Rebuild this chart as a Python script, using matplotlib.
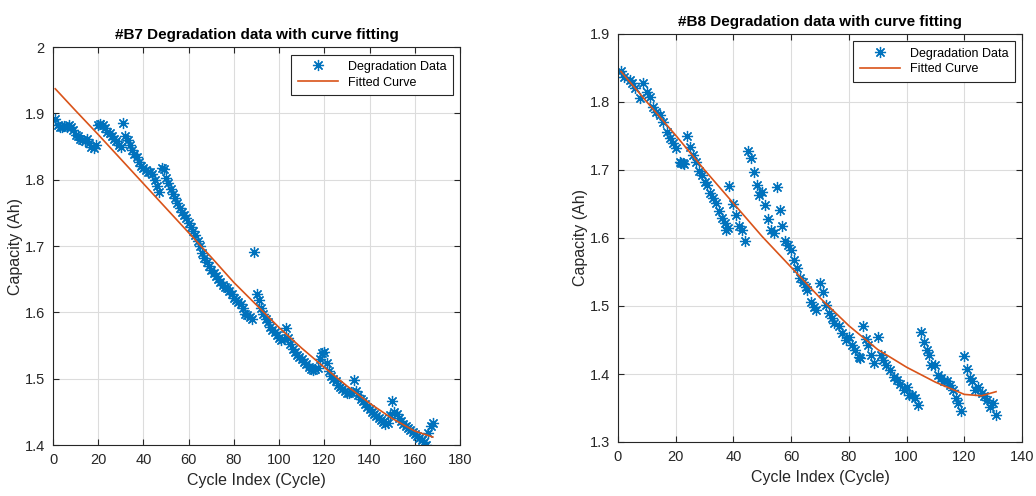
import numpy as np
import matplotlib
matplotlib.use('Agg')
import matplotlib.pyplot as plt

plt.rcParams['font.family'] = ['Liberation Sans', 'DejaVu Sans']

# #B7 measured capacity (Ah), one value per cycle starting at cycle 1
b7_capacity = [
    1.891, 1.882, 1.880, 1.880, 1.881, 1.880, 1.882, 1.880, 1.875, 1.868,
    1.866, 1.862, 1.860, 1.858, 1.862, 1.855, 1.850, 1.848, 1.852, 1.882,
    1.884, 1.882, 1.878, 1.872, 1.870, 1.866, 1.862, 1.858, 1.852, 1.850,
    1.886, 1.866, 1.860, 1.852, 1.845, 1.838, 1.834, 1.826, 1.820, 1.818,
    1.815, 1.812, 1.812, 1.808, 1.800, 1.790, 1.782, 1.818, 1.816, 1.803,
    1.795, 1.786, 1.778, 1.772, 1.765, 1.758, 1.752, 1.746, 1.742, 1.735,
    1.728, 1.722, 1.716, 1.708, 1.700, 1.690, 1.682, 1.676, 1.670, 1.664,
    1.660, 1.655, 1.650, 1.646, 1.641, 1.638, 1.636, 1.632, 1.628, 1.622,
    1.618, 1.615, 1.612, 1.606, 1.598, 1.596, 1.593, 1.590, 1.691, 1.628,
    1.618, 1.606, 1.598, 1.590, 1.585, 1.578, 1.574, 1.570, 1.566, 1.562,
    1.558, 1.560, 1.577, 1.562, 1.552, 1.545, 1.540, 1.536, 1.532, 1.529,
    1.525, 1.522, 1.518, 1.515, 1.513, 1.514, 1.516, 1.530, 1.538, 1.540,
    1.524, 1.512, 1.504, 1.500, 1.496, 1.491, 1.487, 1.484, 1.481, 1.479,
    1.478, 1.480, 1.498, 1.482, 1.476, 1.470, 1.466, 1.462, 1.458, 1.455,
    1.450, 1.446, 1.443, 1.440, 1.437, 1.434, 1.432, 1.433, 1.445, 1.467,
    1.450, 1.446, 1.440, 1.436, 1.432, 1.428, 1.425, 1.422, 1.419, 1.416,
    1.413, 1.410, 1.408, 1.405, 1.400, 1.418, 1.428, 1.433,
]
b7_fit_cycle = [1, 10, 20, 30, 40, 50, 60, 70, 80, 90, 100, 110, 120, 130, 140, 150, 160, 168]
b7_fit_cap = [1.937, 1.904, 1.868, 1.831, 1.794, 1.757, 1.720, 1.683, 1.645, 1.611,
              1.577, 1.546, 1.517, 1.489, 1.463, 1.440, 1.421, 1.412]

# #B8 measured capacity (Ah) and the cycle it was read at
b8_capacity = [
    1.845, 1.837, 1.832, 1.828, 1.820, 1.806, 1.828, 1.815, 1.808, 1.793,
    1.786, 1.781, 1.771, 1.756, 1.747, 1.740, 1.732, 1.712, 1.710, 1.709,
    1.711, 1.750, 1.734, 1.722, 1.712, 1.698, 1.692, 1.683, 1.678, 1.666,
    1.659, 1.651, 1.639, 1.630, 1.622, 1.615, 1.612, 1.676, 1.650, 1.634,
    1.617, 1.612, 1.595, 1.728, 1.718, 1.697, 1.678, 1.663, 1.668, 1.649,
    1.628, 1.612, 1.607, 1.675, 1.641, 1.617, 1.595, 1.590, 1.582, 1.568,
    1.556, 1.541, 1.536, 1.528, 1.524, 1.506, 1.499, 1.494, 1.534, 1.521,
    1.501, 1.489, 1.482, 1.475, 1.470, 1.460, 1.450, 1.455, 1.443, 1.435,
    1.425, 1.423, 1.471, 1.452, 1.443, 1.428, 1.416, 1.455, 1.428, 1.421,
    1.413, 1.406, 1.396, 1.391, 1.386, 1.376, 1.381, 1.369, 1.369, 1.364,
    1.354, 1.462, 1.447, 1.435, 1.428, 1.413, 1.413, 1.399, 1.394, 1.389,
    1.389, 1.384, 1.376, 1.364, 1.357, 1.345, 1.426, 1.407, 1.394, 1.389,
    1.376, 1.381, 1.372, 1.367, 1.362, 1.352, 1.357, 1.340,
]
b8_cycle = [1, 2, 4, 5, 6, 7.6, 8.7, 10, 11, 12, 13, 14.5, 15.5, 17, 18, 19, 20, 21.5,
            22.5, 23, 22, 24, 25, 26, 27, 28, 29, 30, 31, 32, 33, 34, 35, 36, 37, 38,
            37.5, 38.6, 40, 41, 42, 43, 44, 45, 46, 47, 48, 49, 50, 51, 52, 53, 54, 55,
            56, 57, 58, 59, 60, 61, 62, 63, 64, 65, 65.6, 66.8, 67.9, 68.5, 70, 71, 72, 73,
            74, 75, 76.5, 77.7, 79, 80, 81, 82.3, 83.4, 84, 85, 86, 86.7, 87.5, 88.6, 90,
            91, 92, 93, 94.4, 95.5, 96.7, 97.8, 99, 100, 101, 102, 103, 104, 105, 106, 107,
            107.6, 108.5, 109.7, 110.8, 112, 113, 114, 115, 116, 117, 117.7, 118.8, 120,
            121, 122, 122.7, 123.7, 124.8, 126, 127, 128, 128.8, 130, 131]
b8_fit_cycle = [1, 10, 20, 30, 40, 50, 60, 70, 80, 90, 100, 110, 120, 126, 131]
b8_fit_cap = [1.845, 1.800, 1.751, 1.700, 1.651, 1.602, 1.557, 1.512, 1.471, 1.436,
              1.410, 1.388, 1.370, 1.368, 1.374]

blue = '#0072BD'
orange = '#D95319'
txt = '#262626'
star = (8, 2, 0)  # MATLAB-style asterisk

fig = plt.figure(figsize=(10.36, 4.96), dpi=100)
ax1 = fig.add_axes([53/1036, 1-445/496, 407/1036, 398/496])
ax2 = fig.add_axes([618/1036, 1-442/496, 404/1036, 408/496])


def style(ax, title, xlim, xticks, ylim, yticks, ylabels):
    ax.set_xlim(*xlim)
    ax.set_ylim(*ylim)
    ax.set_xticks(xticks)
    ax.set_yticks(yticks)
    ax.set_yticklabels(ylabels)
    ax.grid(True, color='#dcdcdc', linewidth=0.8)
    ax.set_axisbelow(True)
    ax.tick_params(direction='in', top=True, right=True, labelsize=10.5,
                   colors=txt, length=4, width=0.8, pad=6)
    for s in ax.spines.values():
        s.set_color('#262626')
        s.set_linewidth(0.8)
    ax.set_title(title, fontsize=11, fontweight='bold', color='black', pad=6)
    ax.set_xlabel('Cycle Index (Cycle)', fontsize=11.5, color=txt, labelpad=4)
    ax.set_ylabel('Capacity (Ah)', fontsize=11.5, color=txt, labelpad=1)
    leg = ax.legend(loc='upper right', fontsize=9, fancybox=False, framealpha=1,
                    edgecolor='#262626', borderpad=0.5, handlelength=3.2,
                    labelspacing=0.3, borderaxespad=0.6)
    leg.get_frame().set_linewidth(0.8)


x7 = np.arange(1, len(b7_capacity) + 1)
ax1.plot(x7, b7_capacity, linestyle='none', marker=star, color=blue, markersize=8,
         markeredgewidth=0.9, label='Degradation Data')
ax1.plot(b7_fit_cycle, b7_fit_cap, '-', color=orange, linewidth=1.2, label='Fitted Curve')
style(ax1, '#B7 Degradation data with curve fitting', (0, 180), range(0, 181, 20),
      (1.4, 2.0), [1.4, 1.5, 1.6, 1.7, 1.8, 1.9, 2.0],
      ['1.4', '1.5', '1.6', '1.7', '1.8', '1.9', '2'])

ax2.plot(b8_cycle, b8_capacity, linestyle='none', marker=star, color=blue, markersize=8,
         markeredgewidth=0.9, label='Degradation Data')
ax2.plot(b8_fit_cycle, b8_fit_cap, '-', color=orange, linewidth=1.2, label='Fitted Curve')
style(ax2, '#B8 Degradation data with curve fitting', (0, 140), range(0, 141, 20),
      (1.3, 1.9), [1.3, 1.4, 1.5, 1.6, 1.7, 1.8, 1.9],
      ['1.3', '1.4', '1.5', '1.6', '1.7', '1.8', '1.9'])

fig.savefig('out.png', dpi=100)
